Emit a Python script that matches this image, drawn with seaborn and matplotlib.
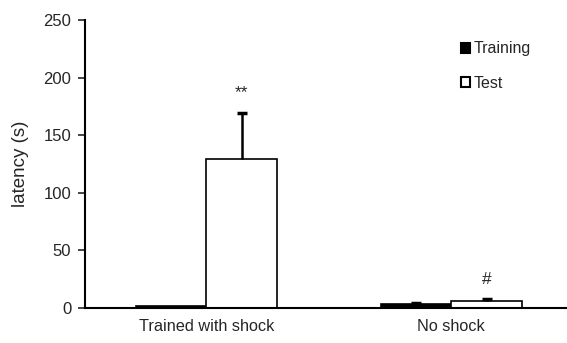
import numpy as np
import pandas as pd
import matplotlib
matplotlib.use("Agg")
import matplotlib.pyplot as plt
import seaborn as sns
from matplotlib.patches import Patch

# Latency data
groups = ["Trained with shock", "No shock"]
phases = ["Training", "Test"]
training_mean = [2, 3.5]
test_mean = [129, 6.5]
training_sem = [0, 0.5]
test_sem = [40, 1]
marks = ["**", "#"]

df = pd.DataFrame({
    "group": groups * 2,
    "phase": [phases[0]] * 2 + [phases[1]] * 2,
    "latency": training_mean + test_mean,
    "sem": training_sem + test_sem,
})

sns.set_style("white")
plt.rcParams["font.family"] = ["Liberation Sans", "DejaVu Sans"]

fig = plt.figure(figsize=(5.67, 3.43), dpi=100)
ax = fig.add_axes([0.150, 0.102, 0.849, 0.840])

sns.barplot(data=df, x="group", y="latency", hue="phase", order=groups,
            hue_order=phases, palette={"Training": "black", "Test": "white"},
            edgecolor="black", linewidth=1.2, width=0.575, errorbar=None,
            legend=False, ax=ax)

# upward-only error bars and significance marks
for bar, (_, row) in zip(ax.patches, df.iterrows()):
    cx = bar.get_x() + bar.get_width() / 2
    top = bar.get_height()
    if row["sem"] > 0:
        ax.vlines(cx, top, top + row["sem"], color="black", linewidth=1.8)
        ax.plot(cx, top + row["sem"], marker="_", markersize=7,
                markeredgewidth=2.5, color="black")
    if row["phase"] == "Test":
        ax.text(cx, top + row["sem"] + 11, marks[groups.index(row["group"])],
                ha="center", va="bottom", fontsize=12.5)

ax.set_ylim(0, 250)
ax.set_yticks([0, 50, 100, 150, 200, 250])
ax.set_xlim(-0.496, 1.47)
ax.set_xlabel("")
ax.set_ylabel("latency (s)", fontsize=13.5, labelpad=10)
ax.tick_params(axis="y", direction="out", length=5, width=1.2, labelsize=12,
               left=True, pad=5)
ax.tick_params(axis="x", length=0, labelsize=11.7, pad=8)
for s in ["top", "right"]:
    ax.spines[s].set_visible(False)
for s in ["left", "bottom"]:
    ax.spines[s].set_linewidth(1.5)
    ax.spines[s].set_color("black")

handles = [Patch(facecolor="black", edgecolor="black", linewidth=1.5),
           Patch(facecolor="white", edgecolor="black", linewidth=1.5)]
ax.legend(handles, phases, loc="upper left", bbox_to_anchor=(0.752, 0.975),
          frameon=False, handlelength=0.55, handleheight=0.55,
          handletextpad=0.2, labelspacing=1.2, fontsize=11.5)

fig.savefig("out.png", dpi=100)
